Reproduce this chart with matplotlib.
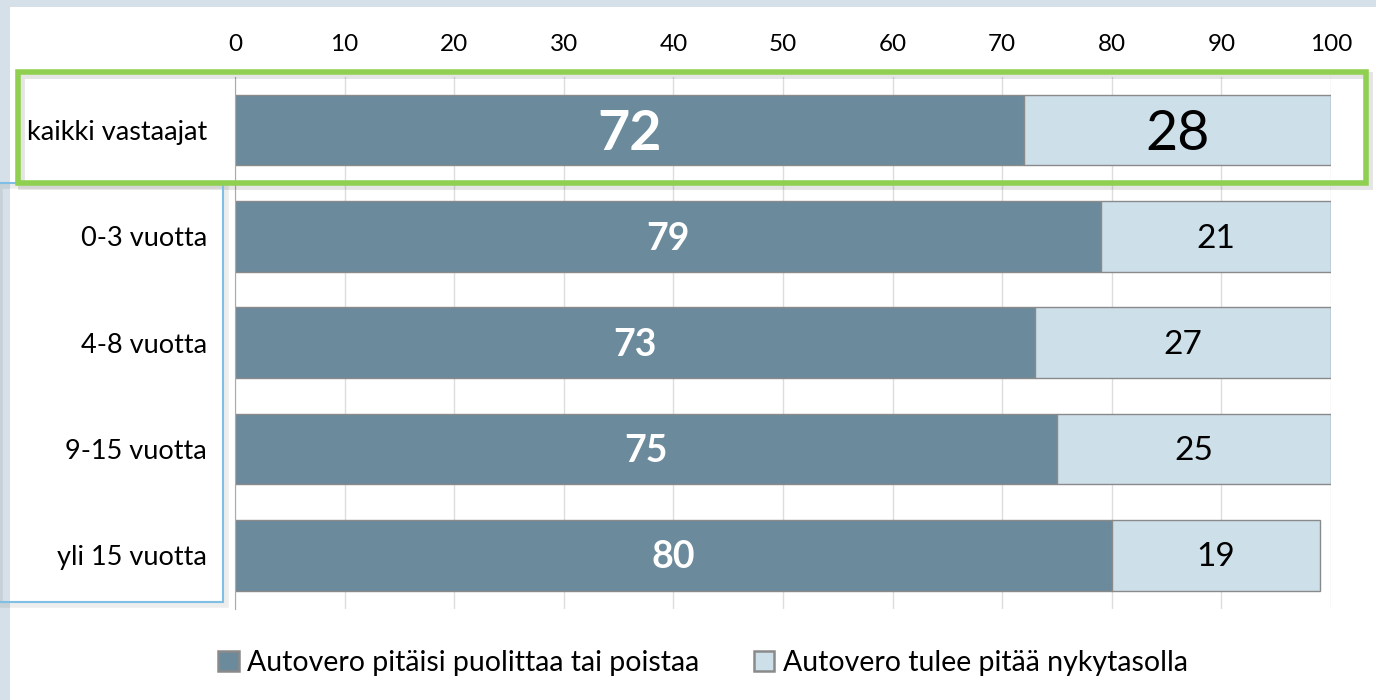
import matplotlib
matplotlib.use("Agg")
import matplotlib.pyplot as plt
from matplotlib.patches import Rectangle
import numpy as np

categories = ["kaikki vastaajat", "0-3 vuotta", "4-8 vuotta", "9-15 vuotta", "yli 15 vuotta"]
series_names = ["Autovero pitäisi puolittaa tai poistaa", "Autovero tulee pitää nykytasolla"]
halve_or_remove = [72, 79, 73, 75, 80]
keep_current = [28, 21, 27, 25, 19]
x_ticks = [0, 10, 20, 30, 40, 50, 60, 70, 80, 90, 100]

dark = "#6b8b9d"
light = "#cddfe9"
edge = "#8a8a8a"
font = "Lato"
plt.rcParams['font.family'] = [font, 'DejaVu Sans']

W, H = 1376, 700
fig = plt.figure(figsize=(W / 100, H / 100), dpi=100)
fig.patch.set_facecolor("#d6e0e8")
# white panel
fig.patches.append(Rectangle((10 / W, 0), 1 - 10 / W, 1 - 7 / H, transform=fig.transFigure,
                             facecolor="white", edgecolor="none", zorder=-5))

ax = fig.add_axes([235 / W, 1 - 608.5 / H, (1331 - 235) / W, (608.5 - 77) / H])
ax.set_zorder(2)
ax.set_facecolor("none")
y = np.arange(len(categories))
h = 0.665
ax.barh(y, halve_or_remove, height=h, color=dark, edgecolor=edge, linewidth=1.0, zorder=3,
        label=series_names[0])
ax.barh(y, keep_current, left=halve_or_remove, height=h, color=light, edgecolor=edge,
        linewidth=1.0, zorder=3, label=series_names[1])

for i, (a, b) in enumerate(zip(halve_or_remove, keep_current)):
    if i == 0:
        ax.text(a / 2, i + 0.04, str(a), ha="center", va="center", color="white", fontsize=40,
                fontweight="bold", zorder=5)
        ax.text(a + b / 2, i + 0.04, str(b), ha="center", va="center", color="black",
                fontsize=40, zorder=5)
    else:
        ax.text(a / 2, i + 0.02, str(a), ha="center", va="center", color="white", fontsize=27,
                fontweight="bold", zorder=5)
        ax.text(a + b / 2, i + 0.02, str(b), ha="center", va="center", color="black",
                fontsize=24, zorder=5)

ax.set_xlim(0, 100)
ax.set_ylim(len(categories) - 0.5, -0.5)
ax.set_xticks(x_ticks)
ax.xaxis.tick_top()
ax.tick_params(axis="x", length=0, labelsize=17.5, pad=16)
ax.set_yticks(y)
ax.set_yticklabels(categories)
ax.tick_params(axis="y", length=0, labelsize=19.5, pad=20)
ax.grid(axis="x", color="#dddddd", linewidth=1, zorder=0)
for s in ["top", "right", "bottom"]:
    ax.spines[s].set_visible(False)
ax.spines["left"].set_color("#aaaaaa")
ax.spines["left"].set_zorder(4)

# highlight boxes
fig.patches.append(Rectangle((0 / W, 1 - 605 / H), 226 / W, (605 - 186) / H,
                             transform=fig.transFigure, edgecolor="#000000", alpha=0.07,
                             facecolor="none", linewidth=4, zorder=6))
fig.patches.append(Rectangle((-5 / W, 1 - 602 / H), 228 / W, (602 - 183) / H,
                             transform=fig.transFigure, edgecolor="#7fbfe6",
                             facecolor="none", linewidth=1.5, zorder=7))
fig.patches.append(Rectangle((21 / W, 1 - 186 / H), (1366 - 18) / W, (183 - 72) / H,
                             transform=fig.transFigure, edgecolor="#000000", alpha=0.10,
                             facecolor="none", linewidth=5, zorder=6))
fig.patches.append(Rectangle((18 / W, 1 - 183 / H), (1366 - 18) / W, (183 - 72) / H,
                             transform=fig.transFigure, edgecolor="#8fd050",
                             facecolor="none", linewidth=4, zorder=7))

leg = fig.legend(loc="center", bbox_to_anchor=(703 / W, 1 - 663 / H), ncol=2, frameon=False,
                 fontsize=20.5, handlelength=0.72, handleheight=0.72, handletextpad=0.3,
                 columnspacing=1.9)
for p in leg.get_patches():
    p.set_linewidth(1.8)

fig.savefig("out.png", dpi=100)
